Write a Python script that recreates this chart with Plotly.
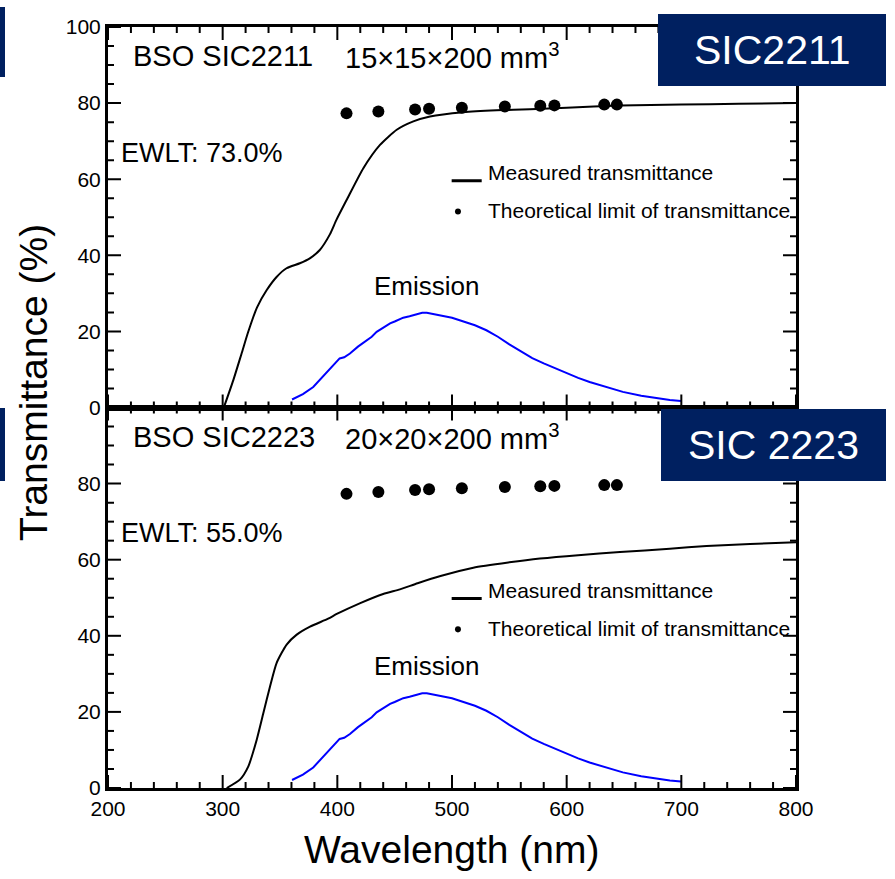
import plotly.graph_objects as go

# ---------------- data ----------------
theory_nm = [408, 435.8, 467.8, 480.0, 508.6, 546.1, 577.0, 589.3, 632.8, 643.8]
theory_top = [77.3, 77.8, 78.3, 78.5, 78.8, 79.1, 79.3, 79.4, 79.6, 79.6]
theory_bot = [77.3, 77.8, 78.3, 78.5, 78.8, 79.1, 79.3, 79.4, 79.6, 79.6]

meas_top_nm = [301, 309.3, 316.5, 322.3, 330.1, 338.3, 347, 355.7, 367.3, 376, 384.7,
               393.5, 399.2, 408.2, 422.7, 437.2, 451.8, 466.3, 480.8, 509.9, 538.9,
               568, 600, 646.5, 700, 750, 800]
meas_top = [0, 7.2, 14.2, 19.9, 26.4, 30.8, 34.3, 36.6, 37.9, 39.2, 41.4,
            45.5, 49.3, 54.6, 62.9, 69.0, 73.0, 75.2, 76.5, 77.6, 78.1,
            78.4, 78.8, 79.4, 79.6, 79.8, 80.0]

meas_bot_nm = [303.5, 315, 322.4, 329.7, 335.5, 341.3, 347.1, 355.8, 364.6, 376.2,
               392, 400, 420, 440, 454.6, 470, 490, 518.6, 550, 576.7, 610,
               646.5, 690, 722, 760, 800]
meas_bot = [0, 2.2, 5.7, 12.7, 19.7, 26.7, 32.9, 37.7, 40.3, 42.4,
            44.5, 45.8, 48.6, 51.0, 52.2, 53.8, 55.7, 57.9, 59.3, 60.3, 61.2,
            62.0, 62.9, 63.6, 64.1, 64.6]

emis_nm = [360.5, 370, 379, 385, 392.2, 402, 406, 411, 418, 425.6, 430, 434.3, 440, 446,
           450, 457.5, 463, 469, 474, 478, 484, 490, 500, 510, 520, 530, 540, 550, 560,
           570, 580, 590, 600, 610, 620, 635, 649, 665, 678.5, 690, 699.7]
emis = [2.1, 3.5, 5.4, 7.4, 9.8, 12.9, 13.2, 14.2, 16.0, 17.7, 18.6, 19.9, 21.0, 22.1,
        22.6, 23.6, 24.0, 24.5, 24.9, 24.9, 24.5, 24.1, 23.6, 22.6, 21.6, 20.3, 18.6, 16.6, 14.7,
        13.0, 11.6, 10.3, 9.0, 7.8, 6.7, 5.3, 4.1, 3.1, 2.4, 2.0, 1.7]

x_range = [200, 800]
y_range = [0, 100]
x_major_ticks = [200, 300, 400, 500, 600, 700, 800]
x_minor_ticks = [v for v in range(200, 801, 20) if v % 100]
y_major_ticks = [0, 20, 40, 60, 80, 100]
y_minor_ticks = [v for v in range(0, 101, 5) if v % 20]

panel_titles = ["BSO SIC2211", "BSO SIC2223"]
panel_sizes = ["15×15×200 mm<sup>3</sup>", "20×20×200 mm<sup>3</sup>"]
ewlt = ["EWLT: 73.0%", "EWLT: 55.0%"]
badges = ["SIC2211", "SIC 2223"]

# ---------------- layout helpers ----------------
W, H = 895, 879
ML, MR, MT, MB = 108, 99, 27, 91
PW, PH = W - ML - MR, H - MT - MB
FONT = "Liberation Sans, Arial, sans-serif"
NAVY = "#002060"
MAJ, MIN = 13, 6                       # tick lengths in pixels
X_PER_PX = (x_range[1] - x_range[0]) / PW
Y_PER_PX = (y_range[1] - y_range[0]) / (PH / 2)


def px(x):
    return (x - ML) / PW


def py(y):
    return (H - MB - y) / PH


fig = go.Figure()

panels = [
    dict(xa="x2", ya="y2", meas_x=meas_top_nm, meas_y=meas_top, th=theory_top),
    dict(xa="x", ya="y", meas_x=meas_bot_nm, meas_y=meas_bot, th=theory_bot),
]

for p in panels:
    fig.add_trace(go.Scatter(x=emis_nm, y=emis, mode="lines", xaxis=p["xa"], yaxis=p["ya"],
                             line=dict(color="#0000ff", width=2), showlegend=False))
    fig.add_trace(go.Scatter(x=p["meas_x"], y=p["meas_y"], mode="lines", xaxis=p["xa"], yaxis=p["ya"],
                             line=dict(color="black", width=2, shape="spline", smoothing=0.6),
                             showlegend=False))
    fig.add_trace(go.Scatter(x=theory_nm, y=p["th"], mode="markers", xaxis=p["xa"], yaxis=p["ya"],
                             marker=dict(color="black", size=12), showlegend=False))

tf = dict(family=FONT, size=21, color="black")
base = dict(showline=True, linecolor="black", linewidth=3, mirror=True, showgrid=False,
            zeroline=False, ticks="", automargin=False, tickfont=tf)

fig.update_layout(
    template="none",
    width=W, height=H, margin=dict(l=ML, r=MR, t=MT, b=MB),
    paper_bgcolor="white", plot_bgcolor="white",
    xaxis=dict(base, anchor="y", domain=[0, 1], range=x_range, tickmode="array",
               tickvals=x_major_ticks),
    xaxis2=dict(base, anchor="y2", domain=[0, 1], range=x_range, showticklabels=False),
    yaxis=dict(base, anchor="x", domain=[0, 0.5], range=y_range, tickmode="array",
               tickvals=y_major_ticks[:-1]),
    yaxis2=dict(base, anchor="x2", domain=[0.5, 1], range=y_range, tickmode="array",
                tickvals=y_major_ticks),
    font=dict(family=FONT, color="black"),
    showlegend=False,
)

ann = []
shapes = []

# inward-pointing tick marks on every edge of both panels (positions from the tick lists)
tick_line = dict(color="black", width=2)
for p in panels:
    xr, yr = p["xa"], p["ya"]
    for vals, ln in [(x_major_ticks, MAJ), (x_minor_ticks, MIN)]:
        dy = ln * Y_PER_PX
        for v in vals:
            shapes.append(dict(type="line", xref=xr, yref=yr, x0=v, x1=v,
                               y0=y_range[0], y1=y_range[0] + dy, line=tick_line, layer="above"))
            shapes.append(dict(type="line", xref=xr, yref=yr, x0=v, x1=v,
                               y0=y_range[1], y1=y_range[1] - dy, line=tick_line, layer="above"))
    for vals, ln in [(y_major_ticks, MAJ), (y_minor_ticks, MIN)]:
        dx = ln * X_PER_PX
        for v in vals:
            shapes.append(dict(type="line", xref=xr, yref=yr, y0=v, y1=v,
                               x0=x_range[0], x1=x_range[0] + dx, line=tick_line, layer="above"))
            shapes.append(dict(type="line", xref=xr, yref=yr, y0=v, y1=v,
                               x0=x_range[1], x1=x_range[1] - dx, line=tick_line, layer="above"))

leg_pos = [dict(line_y=59.6, meas_y=61.7, dot_y=51.5, th_y=51.9),
           dict(line_y=49.8, meas_y=51.8, dot_y=41.7, th_y=41.8)]
for i, p in enumerate(panels):
    xr, yr = p["xa"], p["ya"]
    ann.append(dict(x=220.0, y=92.3, xref=xr, yref=yr, text=panel_titles[i], showarrow=False,
                    xanchor="left", yanchor="middle", font=dict(size=29, family=FONT)))
    ann.append(dict(x=405.0, y=92.3, xref=xr, yref=yr, text=panel_sizes[i], showarrow=False,
                    xanchor="left", yanchor="middle", font=dict(size=29, family=FONT)))
    ann.append(dict(x=209.5, y=67.0, xref=xr, yref=yr, text=ewlt[i], showarrow=False,
                    xanchor="left", yanchor="middle", font=dict(size=27, family=FONT)))
    ann.append(dict(x=477.5, y=32.0, xref=xr, yref=yr, text="Emission", showarrow=False,
                    xanchor="center", yanchor="middle", font=dict(size=26, family=FONT)))
    lp = leg_pos[i]
    shapes.append(dict(type="line", xref=xr, yref=yr, x0=499.7, x1=525.9, y0=lp["line_y"],
                       y1=lp["line_y"], line=dict(color="black", width=3)))
    shapes.append(dict(type="circle", xref=xr, yref=yr, x0=502.6, x1=507.8,
                       y0=lp["dot_y"] - 0.8, y1=lp["dot_y"] + 0.8,
                       fillcolor="black", line=dict(color="black", width=0)))
    ann.append(dict(x=530.0, y=lp["meas_y"], xref=xr, yref=yr, text="Measured transmittance",
                    showarrow=False, xanchor="left", yanchor="middle", font=dict(size=21, family=FONT)))
    ann.append(dict(x=530.0, y=lp["th_y"], xref=xr, yref=yr, text="Theoretical limit of transmittance",
                    showarrow=False, xanchor="left", yanchor="middle", font=dict(size=21, family=FONT)))

boxes = [(658, 14, 886, 86), (661, 409, 886, 481)]
bars = [(0, 7, 5, 77), (0, 408, 5, 481)]
for (x0, y0, x1, y1), label in zip(boxes, badges):
    shapes.append(dict(type="rect", xref="paper", yref="paper", x0=px(x0), x1=px(x1),
                       y0=py(y1), y1=py(y0), fillcolor=NAVY, line=dict(width=0), layer="above"))
    ann.append(dict(x=px((x0 + x1) / 2), y=py((y0 + y1) / 2), xref="paper", yref="paper",
                    text=label, showarrow=False, xanchor="center", yanchor="middle",
                    font=dict(size=41, family=FONT, color="white")))
for (x0, y0, x1, y1) in bars:
    shapes.append(dict(type="rect", xref="paper", yref="paper", x0=px(x0), x1=px(x1),
                       y0=py(y1), y1=py(y0), fillcolor=NAVY, line=dict(width=0), layer="above"))

ann.append(dict(x=px(452), y=py(850), xref="paper", yref="paper", text="Wavelength (nm)",
                showarrow=False, xanchor="center", yanchor="middle", font=dict(size=39, family=FONT)))
ann.append(dict(x=px(33), y=py(383), xref="paper", yref="paper", text="Transmittance (%)",
                showarrow=False, xanchor="center", yanchor="middle", textangle=-90,
                font=dict(size=39, family=FONT)))

fig.update_layout(annotations=ann, shapes=shapes)
fig.write_html("out.html")
